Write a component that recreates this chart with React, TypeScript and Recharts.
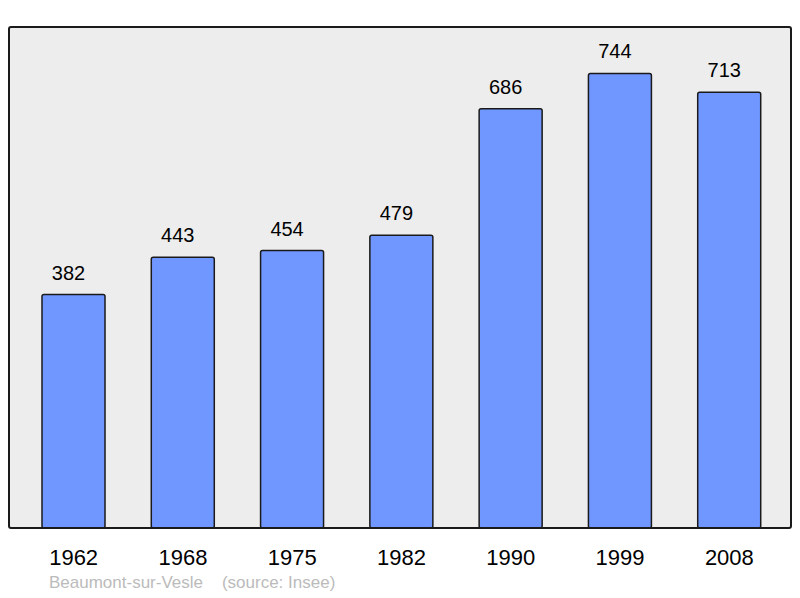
import { BarChart, Bar, XAxis, YAxis, LabelList } from 'recharts';

const YEARS = ['1962', '1968', '1975', '1982', '1990', '1999', '2008'];
const POPULATION = [382, 443, 454, 479, 686, 744, 713];

const DATA = YEARS.map((year, i) => ({ year, pop: POPULATION[i] }));

const FONT = 'Liberation Sans, Arial, sans-serif';

const YearTick = (props: any) => {
  const { x, y, payload } = props;
  return (
    <text x={x} y={y + 29} textAnchor="middle" fontSize={22} fill="#000" fontFamily={FONT}>
      {payload.value}
    </text>
  );
};

export default function App() {
  return (
    <div style={{ position: 'absolute', left: 0, top: 0, width: 800, height: 598, background: '#fff' }}>
      {/* plot background */}
      <div style={{ position: 'absolute', left: 9, top: 27, width: 782, height: 501, background: '#ededed', borderRadius: 3 }} />
      <div style={{ position: 'absolute', left: 0, top: 0 }}>
        <BarChart width={800} height={598} data={DATA} margin={{ top: 27, right: 9, left: 9, bottom: 0 }}>
          <YAxis hide domain={[0, 820]} />
          <XAxis
            dataKey="year"
            height={70}
            axisLine={false}
            tickLine={false}
            tick={<YearTick />}
            interval={0}
            padding={{ left: 10, right: 7 }}
          />
          <Bar dataKey="pop" barSize={63} fill="#7096ff" stroke="#1a1a1a" strokeWidth={1.5} radius={2} isAnimationActive={false}>
            <LabelList dataKey="pop" position="top" offset={15} dx={-5} fontSize={20} fill="#000" fontFamily={FONT} />
          </Bar>
        </BarChart>
      </div>
      {/* plot frame */}
      <div
        style={{
          position: 'absolute',
          left: 8,
          top: 26,
          width: 780,
          height: 499,
          border: '2px solid #1a1a1a',
          borderRadius: 3,
          pointerEvents: 'none',
        }}
      />
      <div
        style={{
          position: 'absolute',
          left: 49,
          top: 573,
          fontSize: 17,
          lineHeight: '20px',
          color: '#bbbbbb',
          fontFamily: FONT,
          whiteSpace: 'pre',
        }}
      >
        {'Beaumont-sur-Vesle    (source: Insee)'}
      </div>
    </div>
  );
}
